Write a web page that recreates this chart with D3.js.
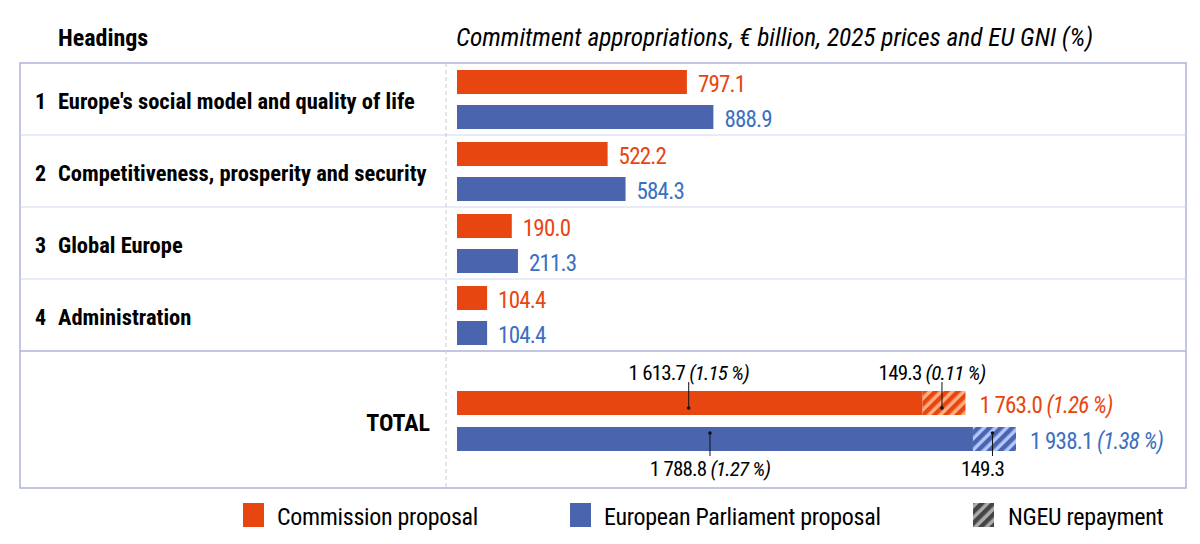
<!DOCTYPE html>
<html><head><meta charset="utf-8">
<script src="https://cdn.jsdelivr.net/npm/d3@7"></script>
<style>body{margin:0;background:#fff}svg{font-family:"Liberation Sans Narrow","Roboto Condensed",Roboto,sans-serif}</style>
</head><body><svg id="c" width="1200" height="544"></svg>
<script>
const categoryNums=["1","2","3","4"];
const categories=["Europe's social model and quality of life","Competitiveness, prosperity and security","Global Europe","Administration"];
const commission=[797.1,522.2,190.0,104.4];
const parliament=[888.9,584.3,211.3,104.4];
const totalBase=[1613.7,1788.8];
const totalBasePct=["1.15 %","1.27 %"];
const ngeu=[149.3,149.3];
const ngeuPct=["0.11 %",null];
const totals=[1763.0,1938.1];
const totalPct=["1.26 %","1.38 %"];
const series=["Commission proposal","European Parliament proposal","NGEU repayment"];
const ORANGE="#e84610",BLUE="#4a64ae",BLUET="#3b70c0",GRID="#aeb3da";
const svg=d3.select("#c");
const x=d3.scaleLinear().domain([0,1938.1]).range([457,1016]);
const fmt=v=>{const s=v.toFixed(1);const [i,d]=s.split(".");return i.replace(/\B(?=(\d{3})+(?!\d))/g," ")+"."+d;};
const defs=svg.append("defs");
[["hO",ORANGE],["hB",BLUE],["hG","#444"]].forEach(([id,c])=>{
 const p=defs.append("pattern").attr("id",id).attr("patternUnits","userSpaceOnUse").attr("width",8).attr("height",8).attr("patternTransform","rotate(45)");
 p.append("rect").attr("width",8).attr("height",8).attr("fill",d3.color(c).brighter(1.2).copy({opacity:0.55}));
 p.append("rect").attr("width",4.5).attr("height",8).attr("fill",c);});
svg.append("text").attr("x",58).attr("y",46).attr("font-size",24).attr("font-weight","bold").text("Headings");
svg.append("text").attr("x",456).attr("y",46).attr("font-size",25).attr("font-style","italic").attr("textLength",637).attr("lengthAdjust","spacingAndGlyphs").text("Commitment appropriations, € billion, 2025 prices and EU GNI (%)");
const rowY=d3.scaleBand().domain(d3.range(4)).range([63,351]);
svg.append("rect").attr("x",20).attr("y",63).attr("width",1166).attr("height",425).attr("fill","none").attr("stroke",GRID).attr("stroke-width",1.5);
d3.range(1,4).forEach(i=>svg.append("line").attr("x1",20).attr("x2",1186).attr("y1",rowY(i)).attr("y2",rowY(i)).attr("stroke","#d3d6ec"));
svg.append("line").attr("x1",20).attr("x2",1186).attr("y1",351).attr("y2",351).attr("stroke",GRID).attr("stroke-width",1.5);
svg.append("line").attr("x1",446).attr("x2",446).attr("y1",63).attr("y2",488).attr("stroke","#c8c8d8").attr("stroke-dasharray","4,3");
categories.forEach((c,i)=>{
 const y0=rowY(i);
 svg.append("text").attr("x",35).attr("y",y0+46).attr("font-size",22).attr("font-weight","bold").text(categoryNums[i]);
 svg.append("text").attr("x",58).attr("y",y0+46).attr("font-size",22.5).attr("font-weight","bold").text(c);
 [[commission[i],ORANGE,ORANGE,7],[parliament[i],BLUE,BLUET,42]].forEach(([v,c,tc,o])=>{
  svg.append("rect").attr("x",x(0)).attr("y",y0+o).attr("width",x(v)-x(0)).attr("height",24).attr("fill",c);
  svg.append("text").attr("x",x(v)+11).attr("y",y0+o+22).attr("font-size",23).attr("letter-spacing",-0.8).attr("fill",tc).text(fmt(v));});
});
svg.append("text").attr("x",430).attr("y",431).attr("text-anchor","end").attr("font-size",24).attr("font-weight","bold").text("TOTAL");
const tY=[391,427],cols=[ORANGE,BLUE],tcols=[ORANGE,BLUET],pats=["hO","hB"];
[0,1].forEach(k=>{
 const y=tY[k];
 svg.append("rect").attr("x",x(0)).attr("y",y).attr("width",x(totalBase[k])-x(0)).attr("height",24).attr("fill",cols[k]);
 svg.append("rect").attr("x",x(totalBase[k])).attr("y",y).attr("width",x(totals[k])-x(totalBase[k])).attr("height",24).attr("fill",`url(#${pats[k]})`);
 const t=svg.append("text").attr("x",x(totals[k])+14).attr("y",y+22).attr("font-size",23).attr("letter-spacing",-0.8).attr("fill",tcols[k]).text(fmt(totals[k])+" ");
 t.append("tspan").attr("font-style","italic").text("("+totalPct[k]+")");
 const bx=x(totalBase[k]/2)+(k?-5:-1), hx=x(totalBase[k]+ngeu[k]*0.5)-2;
 const top=k===0;
 [[bx,fmt(totalBase[k]),totalBasePct[k]],[hx,fmt(ngeu[k]),ngeuPct[k]]].forEach(([lx,a,b],j)=>{
  const ly1=top?y+17:y+6, ly2=top?382:456;
  svg.append("line").attr("x1",lx).attr("x2",lx).attr("y1",ly1).attr("y2",ly2).attr("stroke","#111");
  svg.append("circle").attr("cx",lx).attr("cy",ly1).attr("r",1.8).attr("fill","#111");
  const tt=svg.append("text").attr("x",lx+(j?-10:0)).attr("y",top?380:476).attr("text-anchor","middle").attr("font-size",21).attr("letter-spacing",-0.8).text(a+(b?" ":""));
  if(b) tt.append("tspan").attr("font-style","italic").text("("+b+")");
 });
});
const lg=[[243,ORANGE,277],[570,BLUE,604],[973,"url(#hG)",1008]];
series.forEach((s,i)=>{
 svg.append("rect").attr("x",lg[i][0]).attr("y",503).attr("width",21).attr("height",24).attr("fill",lg[i][1]);
 svg.append("text").attr("x",lg[i][2]).attr("y",525).attr("font-size",24).attr("letter-spacing",-0.3).text(s);});
</script></body></html>
